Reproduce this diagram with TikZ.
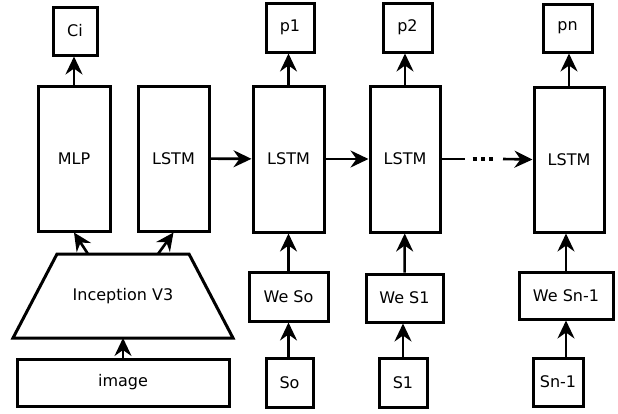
\documentclass[tikz,border=0pt]{standalone}
\usepackage{fontspec}
\setmainfont{DejaVu Sans}
\usetikzlibrary{arrows.meta,
	positioning}

\begin{document}
\begin{tikzpicture}[x=1pt, y=-1pt,
		every node/.style={font=\fontsize{16}{19}\selectfont},
		blk/.style={draw, line width=3pt, inner sep=0pt},
		arr/.style={line width=2.6pt, -{Stealth[length=18pt, width=17pt, inset=6pt]}}]
				\useasboundingbox (0,0) rectangle (618,413);
				% image encoder
				\node[blk, minimum width=212, minimum height=47] (img) at (123,382.5) {image};
				\draw[line width=3pt, line join=miter] (57,254) -- (189,254) -- (233,338) -- (13,338) -- cycle;
				\node (incep) at (123,296) {Inception V3};
				\coordinate (incl) at (88,254);
				\coordinate (incr) at (158,254);
				\coordinate (incb) at (123,338);
				\node[blk, minimum width=72, minimum height=145] (mlp) at (74,158.5) {MLP};
				\node[blk, minimum width=44, minimum height=48] (ci) at (75,31) {Ci};
				\node[blk, minimum width=71, minimum height=145] (lstma) at (173.5,158.5) {LSTM};
				% unrolled decoder
				\node[blk, minimum width=71, minimum height=146] (lstmb) at (288.5,159) {LSTM};
				\node[blk, minimum width=70, minimum height=146] (lstmc) at (405,159) {LSTM};
				\node[blk, minimum width=70, minimum height=145] (lstmd) at (569,159.5) {LSTM};
				\node[blk, minimum width=48, minimum height=49] (pa) at (290,27.5) {p1};
				\node[blk, minimum width=49, minimum height=49] (pb) at (407.5,27.5) {p2};
				\node[blk, minimum width=49, minimum height=48] (pn) at (567.5,28) {pn};
				\node[blk, minimum width=79, minimum height=49] (wsa) at (288.5,296.5) {We So};
				\node[blk, minimum width=77, minimum height=48] (wsb) at (404.5,298) {We S1};
				\node[blk, minimum width=94, minimum height=47] (wsn) at (566,295.5) {We Sn-1};
				\node[blk, minimum width=47, minimum height=49] (sa) at (289.5,382.5) {So};
				\node[blk, minimum width=48, minimum height=49] (sb) at (403,382.5) {S1};
				\node[blk, minimum width=50, minimum height=48] (sn) at (558,382) {Sn-1};
				\coordinate (dotl) at (465,159);
				\coordinate (dotr) at (503,159);

				\draw[arr] (img) -- (incb);
				\draw[arr] (incl) -- (mlp.south);
				\draw[arr] (incr) -- (lstma.south);
				\draw[arr] (mlp) -- (mlp.north |- ci.south);
				\draw[arr] (lstma) -- (lstmb);
				\draw[arr] (lstmb) -- (lstmc);
				\draw[line width=2.6pt] (lstmc.east) -- (dotl);
				\draw[line width=3.5pt, dash pattern=on 4pt off 4.3pt] ([xshift=7.7pt]dotl) -- ([xshift=-9.5pt]dotr);
				\draw[arr] (dotr) -- (lstmd.west);
				\draw[arr] (lstmb.north) -- (lstmb.north |- pa.south);
				\draw[arr] (lstmc.north) -- (lstmc.north |- pb.south);
				\draw[arr] (lstmd.north) -- (lstmd.north |- pn.south);
				\draw[arr] (wsa) -- (lstmb);
				\draw[arr] (wsb) -- (lstmc);
				\draw[arr] (wsn) -- (wsn.north |- lstmd.south);
				\draw[arr] (sa.north -| wsa.south) -- (wsa.south);
				\draw[arr] (sb) -- (sb.north |- wsb.south);
				\draw[arr] (wsn.south |- sn.north) -- (wsn.south);
			\end{tikzpicture}
\end{document}
